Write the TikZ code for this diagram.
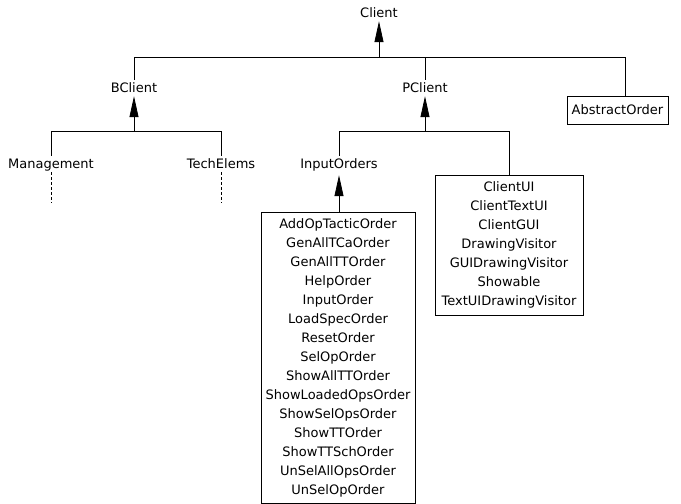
\documentclass[tikz,border=0pt]{standalone}
\usepackage{fontspec}
\setmainfont{DejaVu Sans}
\usetikzlibrary{arrows.meta, positioning}

\begin{document}
\begin{tikzpicture}[
    x=1pt, y=-1pt,
    pkg/.style={font=\fontsize{13}{19}\selectfont, text height=8pt, text depth=0pt, inner xsep=2pt, inner ysep=4pt},
    listbox/.style={draw, line width=0.8pt, font=\fontsize{13}{19}\selectfont, align=center, inner sep=0pt},
    inh/.style={-{Triangle[length=21pt, width=9pt]}, line width=0.8pt},
    link/.style={line width=0.8pt},
    stub/.style={line width=0.8pt, dash pattern=on 3pt off 2pt}
]
    \useasboundingbox (0,0) rectangle (681,504);

    % Top level
    \node[pkg] (client) at (379,13) {Client};
    \node[pkg] (bclient) at (134,88) {BClient};
    \node[pkg] (pclient) at (425,88) {PClient};
    \node[listbox, minimum width=101pt, minimum height=28pt] (absorder) at (617.5,110) {AbstractOrder};
    \coordinate (j0) at (379,57);
    \coordinate (j0l) at (134,57);
    \coordinate (j0r) at (625,57);

    % BClient children
    \node[pkg] (mgmt) at (51,164) {Management};
    \node[pkg] (techelems) at (221,164) {TechElems};
    \coordinate (j1) at (134,131);
    \coordinate (j1l) at (51,131);
    \coordinate (j1r) at (221,131);
    \coordinate (mgmtend) at (51,203);
    \coordinate (techend) at (221,203);

    % PClient children
    \node[pkg] (inputorders) at (339,164) {InputOrders};
    \node[listbox, minimum width=148pt, minimum height=140pt] (clientui) at (509,245)
        {ClientUI\\ClientTextUI\\ClientGUI\\DrawingVisitor\\GUIDrawingVisitor\\Showable\\TextUIDrawingVisitor};
    \node[listbox, minimum width=154pt, minimum height=291pt] (orders) at (338,357.5)
        {AddOpTacticOrder\\GenAllTCaOrder\\GenAllTTOrder\\HelpOrder\\InputOrder\\LoadSpecOrder\\ResetOrder\\SelOpOrder\\ShowAllTTOrder\\ShowLoadedOpsOrder\\ShowSelOpsOrder\\ShowTTOrder\\ShowTTSchOrder\\UnSelAllOpsOrder\\UnSelOpOrder};
    \coordinate (j2) at (425,131);
    \coordinate (j2l) at (339,131);
    \coordinate (j2r) at (509,131);

    % Connectors
    \draw[inh] (j0) -- (client);
    \draw[link] (j0l) -- (j0r);
    \draw[link] (j0l) -- (bclient);
    \draw[link] (j0 -| pclient) -- (pclient);
    \draw[link] (j0r) -- (j0r |- absorder.north);

    \draw[inh] (j1) -- (bclient);
    \draw[link] (j1l) -- (j1r);
    \draw[link] (j1l) -- (mgmt);
    \draw[link] (j1r) -- (techelems);
    \draw[stub] (mgmt) -- (mgmtend);
    \draw[stub] (techelems) -- (techend);

    \draw[inh] (j2) -- (pclient);
    \draw[link] (j2l) -- (j2r);
    \draw[link] (j2l) -- (inputorders);
    \draw[link] (j2r) -- (clientui);
    \draw[inh] (orders.north -| inputorders) -- ([yshift=-3pt]inputorders.south);
\end{tikzpicture}
\end{document}
